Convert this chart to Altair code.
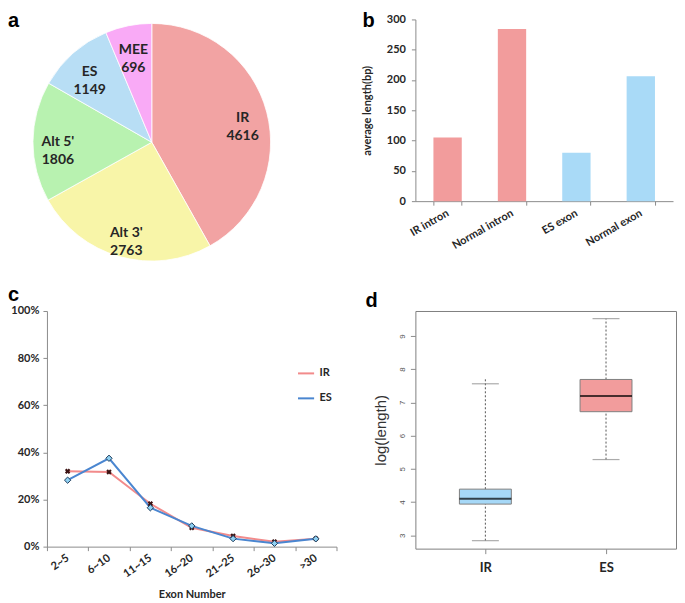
import altair as alt
import pandas as pd

# ---------------- data ----------------
pie_labels = ["IR", "Alt 3'", "Alt 5'", "ES", "MEE"]
pie_counts = [4616, 2763, 1806, 1149, 696]
pie_colors = ["#F2A3A3", "#F8F5A8", "#B8F2B0", "#B8DEF5", "#F9AAF6"]

bar_cats = ["IR intron", "Normal intron", "ES exon", "Normal exon"]
bar_vals = [105, 284, 80, 206]
bar_colors = ["#F29C9C", "#F29C9C", "#A9DAF7", "#A9DAF7"]

exon_bins = ["2~5", "6~10", "11~15", "16~20", "21~25", "26~30", ">30"]
ir_frac = [0.320, 0.317, 0.182, 0.080, 0.045, 0.021, 0.034]
es_frac = [0.282, 0.375, 0.165, 0.088, 0.034, 0.014, 0.033]
line_series = ["IR", "ES"]
line_colors = ["#F28B8B", "#4A86D0"]

box_cats = ["IR", "ES"]
box_lower = [2.84, 5.28]
box_q1 = [3.94, 6.72]
box_median = [4.10, 7.19]
box_q3 = [4.39, 7.69]
box_upper = [7.56, 9.52]
box_outlier_max = [7.75, 9.52]
box_colors = ["#A6D8F7", "#F29C9C"]
box_ticks = [3, 4, 5, 6, 7, 8, 9]

AXIS_GRAY = "#8C8C8C"
TXT = "#262626"


def letter(ch, dx, dy):
    return alt.Chart(pd.DataFrame({"t": [ch]})).mark_text(
        font="Liberation Sans", fontSize=20, fontWeight="bold",
        align="left", baseline="top", color="black"
    ).encode(text="t:N", x=alt.value(dx), y=alt.value(dy))


# ---------------- panel a: pie ----------------
pie_df = pd.DataFrame({"label": pie_labels, "count": pie_counts,
                       "idx": list(range(len(pie_labels)))})
pie_base = alt.Chart(pie_df).encode(
    theta=alt.Theta("count:Q", stack=True),
    order=alt.Order("idx:Q"),
)
arcs = pie_base.mark_arc(outerRadius=119, stroke="white", strokeWidth=0.8).encode(
    color=alt.Color("label:N", scale=alt.Scale(domain=pie_labels, range=pie_colors),
                    legend=None)
)
pie_text = pie_base.transform_calculate(
    txt="datum.label + '\\n' + datum.count"
).mark_text(radius=94, lineBreak="\n", font="Lato", fontSize=14,
            fontWeight="bold", color=TXT, lineHeight=18).encode(text="txt:N")
panel_a = alt.layer(arcs, pie_text, letter("a", -39, -8)).properties(
    width=210, height=246)

# ---------------- panel b: bars ----------------
bar_df = pd.DataFrame({"cat": bar_cats, "val": bar_vals})
bars = alt.Chart(bar_df).mark_bar().encode(
    x=alt.X("cat:N", sort=bar_cats,
            scale=alt.Scale(paddingInner=0.56, paddingOuter=0.28),
            axis=alt.Axis(title=None, labelAngle=-30, labelAlign="right",
                          labelBaseline="middle", tickBand="extent", tickSize=4,
                          labelPadding=7, labelFont="Lato", labelFontWeight="bold",
                          labelFontSize=11, labelColor=TXT, domainColor=AXIS_GRAY,
                          tickColor=AXIS_GRAY)),
    y=alt.Y("val:Q", scale=alt.Scale(domain=[0, 300], nice=False),
            axis=alt.Axis(values=[0, 50, 100, 150, 200, 250, 300],
                          title="average length(bp)", grid=False, tickSize=4,
                          labelPadding=6, labelFont="Lato", labelFontWeight="bold",
                          labelFontSize=11, labelColor=TXT, titleFont="Lato",
                          titleFontWeight="bold", titleFontSize=11, titleColor=TXT,
                          titlePadding=14, domainColor=AXIS_GRAY, tickColor=AXIS_GRAY)),
    color=alt.Color("cat:N", scale=alt.Scale(domain=bar_cats, range=bar_colors),
                    legend=None),
)
panel_b = alt.layer(bars, letter("b", -53, -8)).properties(width=258, height=182)

# ---------------- panel c: lines ----------------
line_df = pd.DataFrame({
    "bin": exon_bins * 2,
    "series": ["IR"] * len(exon_bins) + ["ES"] * len(exon_bins),
    "frac": ir_frac + es_frac,
})
xc = alt.X("bin:N", sort=exon_bins,
           scale=alt.Scale(type="band", paddingInner=0, paddingOuter=0),
           axis=alt.Axis(title="Exon Number", labelAngle=-35, labelAlign="right",
                         labelBaseline="middle", tickBand="extent", tickSize=4,
                         labelPadding=6, labelFont="Lato", labelFontWeight="bold",
                         labelFontSize=11, labelColor=TXT, titleFont="Lato",
                         titleFontWeight="bold", titleFontSize=11, titleColor=TXT,
                         titlePadding=10, domainColor=AXIS_GRAY, tickColor=AXIS_GRAY))
yc = alt.Y("frac:Q", scale=alt.Scale(domain=[0, 1], nice=False),
           axis=alt.Axis(values=[0, 0.2, 0.4, 0.6, 0.8, 1.0], format=".0%",
                         title=None, grid=False, tickSize=4, labelPadding=4,
                         labelFont="Lato", labelFontWeight="bold", labelFontSize=11,
                         labelColor=TXT, domainColor=AXIS_GRAY, tickColor=AXIS_GRAY))
lines = alt.Chart(line_df).mark_line(strokeWidth=2).encode(
    x=xc, y=yc,
    color=alt.Color("series:N", scale=alt.Scale(domain=line_series, range=line_colors),
                    legend=alt.Legend(title=None, orient="none", legendX=250, legendY=53,
                                      symbolType="stroke", symbolStrokeWidth=2,
                                      symbolSize=260, labelFont="Lato",
                                      labelFontWeight="bold", labelFontSize=11,
                                      labelColor=TXT, rowPadding=10)),
    detail="series:N",
)
pts_ir = alt.Chart(line_df).transform_filter("datum.series == 'IR'").mark_point(
    shape="cross", angle=45, filled=True, color="#3B1212", size=30, opacity=1
).encode(x=xc, y=yc)
pts_es = alt.Chart(line_df).transform_filter("datum.series == 'ES'").mark_point(
    shape="diamond", filled=True, fill="#8ED0F2", stroke="#1F3B5A", strokeWidth=1,
    size=40, opacity=1
).encode(x=xc, y=yc)
panel_c = alt.layer(lines, pts_ir, pts_es, letter("c", -39, -26)).properties(
    width=290, height=236)

# ---------------- panel d: boxplot ----------------
box_df = pd.DataFrame({
    "cat": box_cats, "lower": box_lower, "q1": box_q1, "median": box_median,
    "q3": box_q3, "upper": box_upper, "omax": box_outlier_max,
})
xd = alt.X("cat:N", sort=box_cats, scale=alt.Scale(type="point", padding=0.58),
           axis=alt.Axis(title=None, labelAngle=0, labelFont="Lato",
                         labelFontWeight="bold", labelFontSize=13, labelColor=TXT,
                         tickSize=5, labelPadding=8, domain=False,
                         tickColor=AXIS_GRAY))
yscale_d = alt.Scale(domain=[2.6, 9.75], nice=False, zero=False)
yd_axis = alt.Axis(values=box_ticks, tickCount=len(box_ticks), title="log(length)",
                   grid=False, labelAngle=-90, labelAlign="center",
                   labelBaseline="bottom", labelOverlap=False,
                   labelFont="Liberation Sans", labelFontSize=8, labelColor="#555",
                   tickSize=5, labelPadding=4, domain=False, tickColor=AXIS_GRAY,
                   titleFont="Liberation Sans", titleFontSize=15,
                   titleFontWeight="normal", titleColor="#333", titlePadding=10)


def yd(field):
    return alt.Y(field, scale=yscale_d, axis=yd_axis, title="log(length)")


base_d = alt.Chart(box_df)
whisk_lo = base_d.mark_rule(color="#555", strokeDash=[2, 2], strokeWidth=1).encode(
    x=xd, y=yd("lower:Q"), y2="q1:Q")
whisk_hi = base_d.mark_rule(color="#555", strokeDash=[2, 2], strokeWidth=1).encode(
    x=xd, y=yd("q3:Q"), y2="omax:Q")
cap_lo = base_d.mark_tick(size=27, thickness=1.2, color="#888").encode(
    x=xd, y=yd("lower:Q"))
cap_hi = base_d.mark_tick(size=27, thickness=1.2, color="#888").encode(
    x=xd, y=yd("upper:Q"))
boxes = base_d.mark_bar(width=52, stroke="#7F7F7F", strokeWidth=1).encode(
    x=xd, y=yd("q1:Q"), y2="q3:Q",
    color=alt.Color("cat:N", scale=alt.Scale(domain=box_cats, range=box_colors),
                    legend=None))
med = base_d.mark_tick(size=52, thickness=2, color="black").encode(
    x=xd, y=yd("median:Q"))
panel_d = alt.layer(whisk_lo, whisk_hi, cap_lo, cap_hi, boxes, med,
                    letter("d", -50, -20)).properties(
    width=261, height=238,
    view=alt.ViewBackground(stroke="#7F7F7F", strokeWidth=1))

chart = alt.concat(
    panel_a, panel_b, panel_c, panel_d, columns=2, bounds="flush",
    spacing={"row": 46, "column": 79},
).resolve_scale(color="independent").properties(
    padding={"left": 0, "top": 3, "right": 0, "bottom": 0}, background="white"
).configure_view(stroke=None)

chart.save("out.html", embed_options={"renderer": "svg", "actions": False})
